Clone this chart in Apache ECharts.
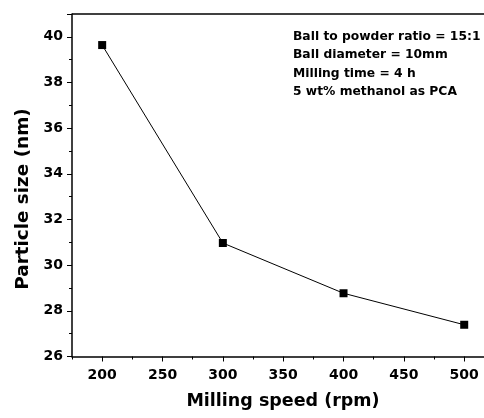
<!DOCTYPE html>
<html>
<head>
<meta charset="utf-8">
<script src="https://cdn.jsdelivr.net/npm/echarts@6/dist/echarts.min.js"></script>
<style>
  html, body { margin: 0; padding: 0; background: #fff; }
  #chart { width: 484px; height: 418px; }
</style>
</head>
<body>
<div id="chart"></div>
<script>
// milling speed (rpm) vs particle size (nm)
var speeds = [200, 300, 400, 500];
var sizes = [39.64, 30.97, 28.77, 27.39];
var xTicks = [200, 250, 300, 350, 400, 450, 500];
var xMinorTicks = [175, 225, 275, 325, 375, 425, 475];
var notes = [
  'Ball to powder ratio = 15:1',
  'Ball diameter = 10mm',
  'Milling time = 4 h',
  '5 wt% methanol as PCA'
];

var points = [];
speeds.forEach(function (s, i) {
  points.push([s, sizes[i]]);
});

var font = 'DejaVu Sans, Arial, sans-serif';
var labelStyle = { fontFamily: font, fontWeight: 'bold', fontSize: 14, color: '#000' };
var myChart = echarts.init(document.getElementById('chart'));
// the original frame runs past the right edge of the picture, so the
// x range is cut where the window ends (175 .. ~516)
var option = {
  animation: false,
  grid: { left: 72, top: 14, right: 0, bottom: 61.5 },
  xAxis: [{
    // minor ticks
    type: 'value',
    min: 175, max: 516.4,
    axisLine: { lineStyle: { color: '#000', width: 1.5 } },
    axisTick: { inside: false, length: 3, customValues: xMinorTicks, lineStyle: { color: '#000' } },
    axisLabel: { show: false },
    splitLine: { show: false }
  }, {
    // major ticks + labels
    type: 'value',
    position: 'bottom',
    min: 175, max: 516.4,
    axisLine: { show: false },
    axisTick: { inside: false, length: 5, customValues: xTicks, lineStyle: { color: '#000' } },
    axisLabel: Object.assign({ margin: 12, customValues: xTicks }, labelStyle),
    splitLine: { show: false }
  }],
  yAxis: {
    type: 'value',
    min: 26, max: 41,
    interval: 2,
    axisLine: { show: true, lineStyle: { color: '#000', width: 1.5 } },
    axisTick: { inside: false, length: 5, lineStyle: { color: '#000' } },
    minorTick: { show: true, splitNumber: 2, length: 3, lineStyle: { color: '#000' } },
    axisLabel: Object.assign({
      margin: 9,
      formatter: function (v) { return v % 2 === 0 && v <= 40 ? v : ''; }
    }, labelStyle),
    splitLine: { show: false }
  },
  graphic: [{
    type: 'text',
    left: 293,
    top: 28,
    style: {
      text: notes.join('\n'),
      font: 'bold 12.3px ' + font,
      lineHeight: 18.2,
      fill: '#000'
    }
  }, {
    type: 'text',
    x: 283, y: 401,
    style: {
      text: 'Milling speed (rpm)',
      font: 'bold 17.5px ' + font,
      fill: '#000',
      align: 'center',
      verticalAlign: 'middle'
    }
  }, {
    type: 'text',
    x: 23, y: 199,
    rotation: Math.PI / 2,
    style: {
      text: 'Particle size (nm)',
      font: 'bold 18.4px ' + font,
      fill: '#000',
      align: 'center',
      verticalAlign: 'middle'
    }
  }, {
    // top frame line
    type: 'line',
    shape: { x1: 72, y1: 14, x2: 484, y2: 14 },
    style: { stroke: '#000', lineWidth: 1.5 }
  }],
  series: [{
    type: 'line',
    xAxisIndex: 0,
    data: points,
    symbol: 'rect',
    symbolSize: 8,
    itemStyle: { color: '#000' },
    lineStyle: { color: '#000', width: 1 }
  }]
};
myChart.setOption(option);
</script>
</body>
</html>
